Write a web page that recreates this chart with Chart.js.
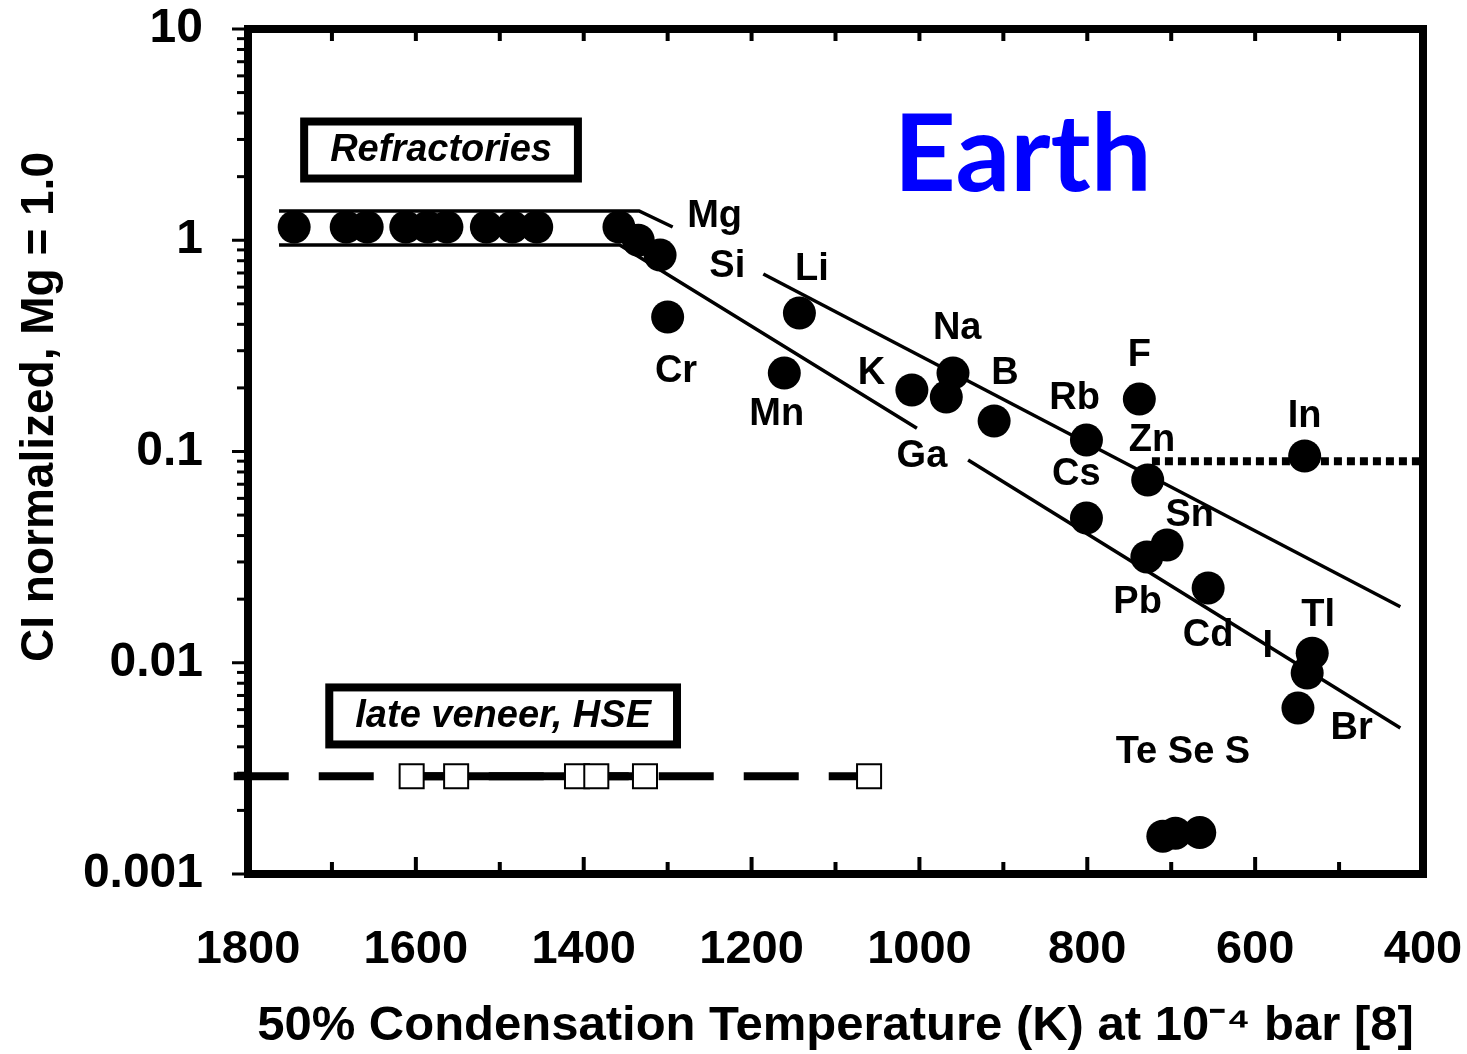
<!DOCTYPE html>
<html>
<head>
<meta charset="UTF-8">
<title>Earth - CI normalized abundances vs condensation temperature</title>
<script src="https://cdn.jsdelivr.net/npm/chart.js"></script>
<style>
    body { margin: 0; background: #fff; }
    canvas { display: block; }
</style>
</head>
<body>
<canvas id="graph" width="1467" height="1054"></canvas>
<script>
    // refractory elements (unlabelled plateau) - temperature K, CI normalized value
    const refractoryT  = [1745, 1683, 1658, 1612, 1586, 1563, 1516, 1485, 1456, 1358];
    const refractoryCI = [1.155, 1.155, 1.155, 1.155, 1.155, 1.155, 1.155, 1.155, 1.155, 1.155];

    // named elements
    const elementName = ['Mg', 'Si', 'Cr', 'Li', 'Mn', 'K', 'Na', 'Ga', 'B', 'F', 'Rb', 'In', 'Zn', 'Cs', 'Sn', 'Pb', 'Cd', 'Tl', 'I', 'Br', 'Te', 'Se', 'S'];
    const elementT  = [1335, 1309, 1300, 1143, 1161, 1009, 960, 968, 911, 738, 801, 541, 728, 801, 705, 729, 656, 532, 538, 549, 710, 695, 666];
    const elementCI = [1.0, 0.851, 0.433, 0.452, 0.235, 0.1955, 0.235, 0.181, 0.1394, 0.177, 0.1133, 0.0952, 0.0733, 0.0484, 0.0361, 0.0317, 0.0226, 0.0111, 0.00894, 0.0061, 0.00151, 0.00156, 0.00157];

    // highly siderophile elements (late veneer)
    const hseT  = [1605, 1552, 1408, 1385, 1327, 1060];
    const hseCI = [0.0029, 0.0029, 0.0029, 0.0029, 0.0029, 0.0029];
    const hseLineT  = [1817, 1060];
    const hseLineCI = [0.0029, 0.0029];

    // refractory band and volatility trends
    const upperTrendT  = [1763, 1334, 1294];
    const upperTrendCI = [1.375, 1.375, 1.155];
    const upperTrend2T  = [1186, 427];
    const upperTrend2CI = [0.692, 0.0184];
    const lowerTrendT  = [1763, 1357, 1003];
    const lowerTrendCI = [0.95, 0.95, 0.129];
    const lowerTrend2T  = [942, 427];
    const lowerTrend2CI = [0.0912, 0.00491];
    const plateauT  = [723, 400];
    const plateauCI = [0.09, 0.09];

    // axis ticks
    const xTickLabels = [1800, 1600, 1400, 1200, 1000, 800, 600, 400];
    const yTickLabels = [0.001, 0.01, 0.1, 1, 10];

    // text labels, anchored in data units
    const labelText = ['Mg', 'Si', 'Li', 'Cr', 'Mn', 'K', 'Na', 'B', 'Ga', 'Rb', 'F', 'Zn', 'Cs', 'In', 'Sn', 'Pb', 'Cd', 'Tl', 'I', 'Br', 'Te Se S'];
    const labelT  = [1244, 1229, 1128, 1290, 1170, 1057, 955, 898, 997, 815, 738, 723, 813, 541, 678, 740, 656, 525, 585, 485, 686];
    const labelCI = [1.289, 0.747, 0.723, 0.238, 0.149, 0.235, 0.384, 0.235, 0.0942, 0.179, 0.286, 0.1133, 0.0774, 0.147, 0.050, 0.0192, 0.0134, 0.0167, 0.0119, 0.0049, 0.00374];

    const boxText = ['Refractories', 'late veneer, HSE'];
    const boxT  = [1570, 1496];
    const boxCI = [2.674, 0.0056];

    const FONT = "'Liberation Sans', Arial, sans-serif";

    function pts(xs, ys) {
        return xs.map((t, i) => ({ x: t, y: ys[i] }));
    }

    const lineStyle = {
        showLine: true,
        pointRadius: 0,
        borderColor: '#000',
        borderWidth: 3.5,
        fill: false
    };

    // frame, inner/outer tick marks, labels and boxes
    const annotate = {
        id: 'annotate',
        afterDatasetsDraw(chart) {
            const { ctx, chartArea: a, scales: { x, y } } = chart;
            ctx.save();
            ctx.fillStyle = '#000';
            ctx.strokeStyle = '#000';

            // bottom (inward) and top (inward) ticks every 100 K
            for (let t = 500; t <= 1700; t += 100) {
                const px = x.getPixelForValue(t);
                const len = t % 200 === 0 ? 13 : 8;
                ctx.fillRect(px - 2, a.bottom - 4 - len, 4, len);
                ctx.fillRect(px - 2, a.top + 4, 4, 8);
            }
            // left (outward) log ticks
            for (const d of [0.001, 0.01, 0.1, 1]) {
                for (let m = 1; m <= 9; m++) {
                    const py = y.getPixelForValue(m * d);
                    const len = m === 1 ? 12 : 7;
                    ctx.fillRect(a.left - 4 - len, py - 1.5, len, 3);
                }
            }
            ctx.fillRect(a.left - 16, y.getPixelForValue(10) - 1.5, 12, 3);

            // frame
            ctx.lineWidth = 8;
            ctx.strokeRect(a.left, a.top, a.right - a.left, a.bottom - a.top);

            // element labels
            ctx.font = 'bold 38px ' + FONT;
            ctx.textAlign = 'center';
            ctx.textBaseline = 'middle';
            labelText.forEach((s, i) => {
                ctx.fillText(s, x.getPixelForValue(labelT[i]), y.getPixelForValue(labelCI[i]));
            });

            // boxed captions
            ctx.font = 'italic bold 38px ' + FONT;
            ctx.lineWidth = 8;
            boxText.forEach((s, i) => {
                const cx = x.getPixelForValue(boxT[i]);
                const cy = y.getPixelForValue(boxCI[i]);
                const w = ctx.measureText(s).width + 60;
                const h = 65;
                ctx.strokeRect(cx - w / 2 + 4, cy - h / 2 + 4, w - 8, h - 8);
                ctx.fillText(s, cx, cy + 1);
            });

            // Earth
            ctx.font = "bold 108px Lato, 'Noto Sans', sans-serif";
            ctx.fillStyle = '#0000ff';
            ctx.textBaseline = 'alphabetic';
            ctx.fillText('Earth', x.getPixelForValue(877), y.getPixelForValue(1.711));

            // y axis title
            ctx.fillStyle = '#000';
            ctx.font = 'bold 46px ' + FONT;
            ctx.textBaseline = 'middle';
            ctx.translate(40, 407);
            ctx.rotate(-Math.PI / 2);
            ctx.fillText('CI normalized, Mg = 1.0', 0, 0);
            ctx.restore();
        }
    };

    const ctx = document.getElementById('graph').getContext('2d');
    const chart = new Chart(ctx, {
        type: 'scatter',
        data: {
            datasets: [
                {
                    label: 'elements',
                    data: pts(elementT, elementCI),
                    pointRadius: 16.5,
                    pointBackgroundColor: '#000',
                    pointBorderWidth: 0
                },
                {
                    label: 'refractory',
                    data: pts(refractoryT, refractoryCI),
                    pointRadius: 16.5,
                    pointBackgroundColor: '#000',
                    pointBorderWidth: 0
                },
                {
                    label: 'HSE',
                    data: pts(hseT, hseCI),
                    pointStyle: 'rect',
                    pointRadius: 17,
                    pointBackgroundColor: '#fff',
                    pointBorderColor: '#000',
                    pointBorderWidth: 2
                },
                {
                    data: pts([hseT[0], hseT[4]], [hseCI[0], hseCI[4]]),
                    showLine: true, pointRadius: 0, borderColor: '#000', borderWidth: 8
                },
                {
                    data: pts(hseLineT, hseLineCI),
                    showLine: true, pointRadius: 0, borderColor: '#000', borderWidth: 8,
                    borderDash: [55, 30], clip: false
                },
                {
                    data: pts(plateauT, plateauCI),
                    showLine: true, pointRadius: 0, borderColor: '#000', borderWidth: 8,
                    borderDash: [8, 5]
                },
                { ...lineStyle, data: pts(upperTrendT, upperTrendCI) },
                { ...lineStyle, data: pts(upperTrend2T, upperTrend2CI) },
                { ...lineStyle, data: pts(lowerTrendT, lowerTrendCI) },
                { ...lineStyle, data: pts(lowerTrend2T, lowerTrend2CI) }
            ]
        },
        options: {
            responsive: false,
            animation: false,
            layout: { padding: { top: 29, right: 44, left: 0, bottom: 0 } },
            plugins: {
                legend: { display: false },
                tooltip: { enabled: false }
            },
            scales: {
                x: {
                    type: 'linear',
                    reverse: true,
                    min: 400,
                    max: 1800,
                    grid: { display: false },
                    border: { display: false },
                    afterBuildTicks: s => { s.ticks = xTickLabels.map(v => ({ value: v })); },
                    afterFit: s => {
                        s.height = 180;
                        s.paddingLeft = 0;
                        s.paddingRight = 0;
                    },
                    ticks: {
                        color: '#000',
                        font: { family: FONT, size: 47, weight: 'bold' },
                        padding: 40,
                        maxRotation: 0,
                        autoSkip: false,
                        callback: v => String(v)
                    },
                    title: {
                        display: true,
                        text: '50% Condensation Temperature (K) at 10\u207B\u2074 bar [8]',
                        color: '#000',
                        font: { family: FONT, size: 49, weight: 'bold', lineHeight: 1 },
                        padding: { top: 0, bottom: 3 }
                    }
                },
                y: {
                    type: 'logarithmic',
                    min: 0.001,
                    max: 10,
                    grid: { display: false },
                    border: { display: false },
                    afterBuildTicks: s => { s.ticks = yTickLabels.map(v => ({ value: v })); },
                    afterFit: s => {
                        s.width = 248;
                        s.paddingTop = 0;
                        s.paddingBottom = 0;
                    },
                    ticks: {
                        color: '#000',
                        font: { family: FONT, size: 48, weight: 'bold' },
                        padding: 37,
                        autoSkip: false,
                        callback: v => String(v)
                    }
                }
            }
        },
        plugins: [annotate]
    });
</script>
</body>
</html>
